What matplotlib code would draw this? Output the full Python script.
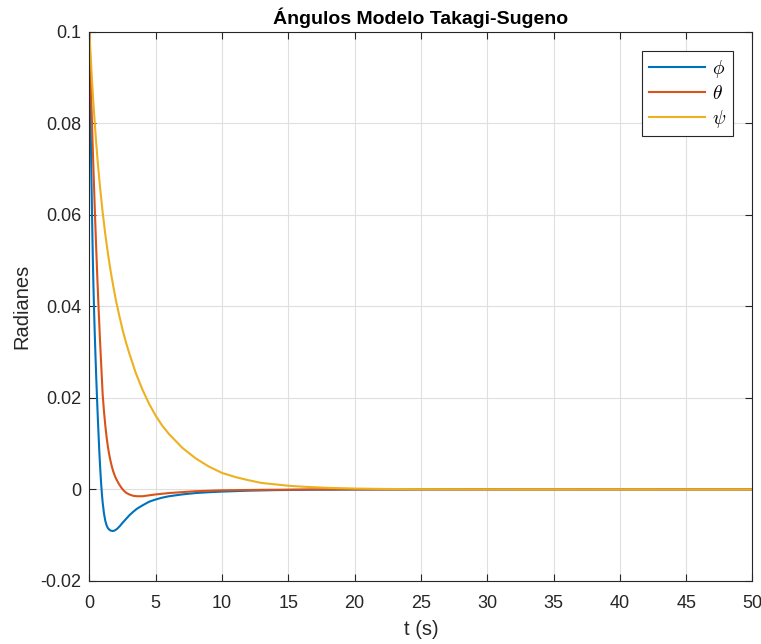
import numpy as np
import matplotlib
matplotlib.use("Agg")
import matplotlib.pyplot as plt

# ─── Datos de la simulación (ángulos en radianes) ─────────────────────────
t_phi = [0, 0.05, 0.1, 0.15, 0.2, 0.25, 0.3, 0.35, 0.4, 0.45, 0.5, 0.55, 0.6,
         0.65, 0.7, 0.75, 0.8, 0.85, 0.9, 0.95, 1.0, 1.1, 1.2, 1.3, 1.4, 1.5,
         1.6, 1.75, 1.9, 2.1, 2.3, 2.5, 2.75, 3.0, 3.3, 3.6, 4.0, 4.5, 5.0,
         5.5, 6.0, 7.0, 8.0, 9.0, 10.0, 12.0, 14.0, 17.0, 20.0, 25.0, 50.0]
phi = [0.1, 0.089, 0.0785, 0.0685, 0.0595, 0.0515, 0.0448, 0.0392, 0.0343,
       0.0298, 0.0256, 0.0217, 0.0180, 0.0145, 0.0112, 0.0081, 0.0053, 0.0028,
       0.0006, -0.0013, -0.0029, -0.0053, -0.0069, -0.0079, -0.0085, -0.0088,
       -0.0090, -0.0091, -0.0090, -0.0086, -0.0080, -0.0073, -0.0065, -0.0057,
       -0.0049, -0.0042, -0.0035, -0.0027, -0.0022, -0.0018, -0.0015, -0.0011,
       -0.0008, -0.00062, -0.00048, -0.00028, -0.00016, -0.00007, -0.00003,
       0.0, 0.0]

t_theta = [0, 0.05, 0.1, 0.15, 0.2, 0.3, 0.4, 0.5, 0.6, 0.7, 0.8, 0.9, 1.0,
           1.1, 1.2, 1.3, 1.4, 1.5, 1.6, 1.7, 1.8, 1.9, 2.0, 2.2, 2.4, 2.6,
           2.8, 3.0, 3.3, 3.6, 4.0, 4.5, 5.0, 6.0, 7.0, 8.0, 10.0, 13.0, 18.0,
           50.0]
theta = [0.1, 0.0945, 0.0893, 0.0843, 0.0795, 0.0703, 0.0617, 0.0536, 0.0460,
         0.0390, 0.0325, 0.0266, 0.0207, 0.0170, 0.0139, 0.0113, 0.0092,
         0.0075, 0.0061, 0.0049, 0.0039, 0.0031, 0.0024, 0.0013, 0.0004,
         -0.0003, -0.0008, -0.0011, -0.0014, -0.0015, -0.0015, -0.0013,
         -0.0011, -0.0008, -0.0006, -0.0004, -0.0002, -0.0001, 0.0, 0.0]

t_psi = [0, 0.1, 0.2, 0.3, 0.4, 0.5, 0.6, 0.7, 0.8, 1.0, 1.2, 1.4, 1.6, 1.8,
         2.0, 2.25, 2.5, 2.75, 3.0, 3.5, 4.0, 4.5, 5.0, 5.5, 6.0, 7.0, 8.0,
         9.0, 10.0, 11.0, 12.0, 13.0, 14.0, 15.0, 16.0, 18.0, 20.0, 22.0, 25.0,
         30.0, 50.0]
psi = [0.1, 0.0943, 0.0891, 0.0844, 0.0802, 0.0762, 0.0725, 0.0692, 0.0661,
       0.0605, 0.0557, 0.0515, 0.0477, 0.0444, 0.0413, 0.0380, 0.0349, 0.0322,
       0.0298, 0.0254, 0.0218, 0.0187, 0.0161, 0.0139, 0.0121, 0.0091, 0.0068,
       0.0050, 0.0036, 0.0027, 0.0020, 0.0014, 0.0011, 0.0008, 0.0006,
       0.00033, 0.00018, 0.0001, 0.00004, 0.00001, 0.0]

labels = [r"$\phi$", r"$\theta$", r"$\psi$"]
x_ticks = list(range(0, 51, 5))
y_ticks = [-0.02, 0, 0.02, 0.04, 0.06, 0.08, 0.1]
y_tick_labels = ["-0.02", "0", "0.02", "0.04", "0.06", "0.08", "0.1"]

COLORS = ["#0072BD", "#D95319", "#EDB120"]
AXCOL = "#262626"

plt.rcParams["font.family"] = ["Liberation Sans", "DejaVu Sans"]
plt.rcParams["mathtext.fontset"] = "cm"

fig = plt.figure(figsize=(7.61, 6.44), dpi=100)
ax = fig.add_axes([0.1175, 0.098, 0.8713, 0.8525])

series = [(t_phi, phi), (t_theta, theta), (t_psi, psi)]
for (tt, yy), col, lab in zip(series, COLORS, labels):
    ax.plot(tt, yy, color=col, lw=1.5, label=lab)

ax.set_xlim(0, 50)
ax.set_ylim(-0.02, 0.1)
ax.set_xticks(x_ticks)
ax.set_xticklabels([str(v) for v in x_ticks])
ax.set_yticks(y_ticks)
ax.set_yticklabels(y_tick_labels)

ax.grid(True, color="#dfdfdf", lw=0.8)
ax.set_axisbelow(True)
for s in ax.spines.values():
    s.set_color(AXCOL)
    s.set_linewidth(0.8)
ax.tick_params(direction="in", length=5, width=0.8, colors=AXCOL,
               labelsize=13, top=True, right=True, pad=6)
ax.tick_params(axis="x", pad=10)

ax.set_xlabel("t (s)", fontsize=14.5, color=AXCOL, labelpad=6)
ax.set_ylabel("Radianes", fontsize=14.5, color=AXCOL, labelpad=6)
ax.set_title("Ángulos Modelo Takagi-Sugeno", fontsize=14, fontweight="bold",
             color="black", pad=6)

leg = ax.legend(loc="upper right", bbox_to_anchor=(0.971, 0.965),
                borderaxespad=0, fontsize=14, handlelength=2.9,
                handletextpad=0.35, labelspacing=0.25, borderpad=0.35,
                fancybox=False, framealpha=1)
leg.get_frame().set_edgecolor(AXCOL)
leg.get_frame().set_linewidth(0.8)

fig.savefig("out.png", dpi=100, facecolor="white")
